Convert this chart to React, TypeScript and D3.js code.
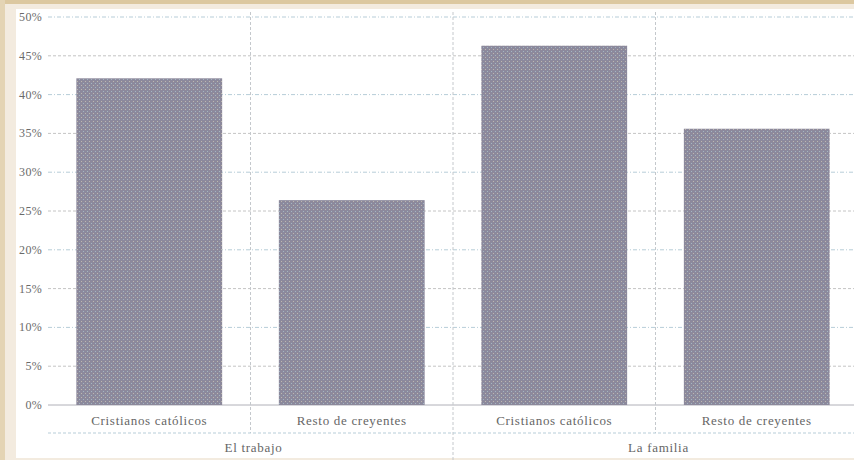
import React, { useEffect, useRef } from 'react'
import * as d3 from 'd3'

// data
const groups = ['El trabajo', 'La familia']
const categories = ['Cristianos católicos', 'Resto de creyentes']
const trabajo = [42.1, 26.4]
const familia = [46.3, 35.6]
const yTicks = [0, 5, 10, 15, 20, 25, 30, 35, 40, 45, 50]

const W = 854
const H = 460

const App: React.FC = () => {
  const svgRef = useRef(null)

  useEffect(() => {
    const svg = d3.select(svgRef.current)
    svg.selectAll('*').remove()

    const left = 48
    const right = 858
    const top = 17
    const bottom = 405

    const rows = [
      ...categories.map((c, i) => ({ group: groups[0], cat: c, key: groups[0] + i, v: trabajo[i] })),
      ...categories.map((c, i) => ({ group: groups[1], cat: c, key: groups[1] + i, v: familia[i] })),
    ]

    const x = d3.scaleBand<string>().domain(rows.map((d) => d.key)).range([left, right]).paddingInner(0.28).paddingOuter(0.14)
    const y = d3.scaleLinear().domain([0, 50]).range([bottom, top])

    // frame
    svg.append('rect').attr('width', W).attr('height', H).attr('fill', '#f3ebdf')
    svg.append('rect').attr('width', W).attr('height', 4).attr('fill', '#dcc8a0')
    svg.append('rect').attr('width', 5).attr('height', H).attr('fill', '#e4d4b4')
    svg.append('rect').attr('x', 16).attr('y', 9).attr('width', W - 16).attr('height', H - 11).attr('fill', '#ffffff')

    const defs = svg.append('defs')
    const pat = defs.append('pattern').attr('id', 'dots').attr('width', 4).attr('height', 4).attr('patternUnits', 'userSpaceOnUse')
    pat.append('rect').attr('width', 4).attr('height', 4).attr('fill', '#8c899c')
    pat.append('rect').attr('x', 1).attr('y', 1).attr('width', 1).attr('height', 1).attr('fill', '#bdb8ae')
    pat.append('rect').attr('x', 3).attr('y', 3).attr('width', 1).attr('height', 1).attr('fill', '#a2b6c3')

    // horizontal grid
    svg.append('g')
      .selectAll('line')
      .data(yTicks)
      .enter()
      .append('line')
      .attr('x1', left)
      .attr('x2', W)
      .attr('y1', (d) => y(d))
      .attr('y2', (d) => y(d))
      .attr('stroke', (d) => (d === 0 ? '#b0b0b8' : d % 10 === 0 ? '#b7cdd8' : '#c4c4c4'))
      .attr('stroke-dasharray', (d) => (d === 0 ? null : d % 10 === 0 ? '4,2,1,2' : '3,2'))

    // vertical separators
    const bw = x.step()
    const seps = rows.slice(1).map((d) => ({ pos: (x(d.key) as number) - (bw - x.bandwidth()) / 2, major: d.key === groups[1] + 0 }))
    svg.append('g')
      .selectAll('line')
      .data(seps)
      .enter()
      .append('line')
      .attr('x1', (d) => d.pos)
      .attr('x2', (d) => d.pos)
      .attr('y1', 12)
      .attr('y2', (d) => (d.major ? H : 433))
      .attr('stroke', '#c4c8cc')
      .attr('stroke-dasharray', '3,2')

    // line under category labels
    svg.append('line')
      .attr('x1', left)
      .attr('x2', W)
      .attr('y1', 433)
      .attr('y2', 433)
      .attr('stroke', '#b7cdd8')
      .attr('stroke-dasharray', '3,2')

    // bars
    svg.append('g')
      .selectAll('rect')
      .data(rows)
      .enter()
      .append('rect')
      .attr('x', (d) => x(d.key) as number)
      .attr('width', x.bandwidth())
      .attr('y', (d) => y(d.v))
      .attr('height', (d) => y(0) - y(d.v))
      .attr('fill', 'url(#dots)')

    const font = '"Liberation Serif", "DejaVu Serif", serif'

    // y labels
    svg.append('g')
      .selectAll('text')
      .data(yTicks)
      .enter()
      .append('text')
      .attr('x', 42)
      .attr('y', (d) => y(d) + 4)
      .attr('text-anchor', 'end')
      .attr('font-family', font)
      .attr('font-size', 12)
      .attr('letter-spacing', 0.3)
      .attr('fill', '#6a6a6a')
      .text((d) => d + '%')

    // category labels
    svg.append('g')
      .selectAll('text')
      .data(rows)
      .enter()
      .append('text')
      .attr('x', (d) => (x(d.key) as number) + x.bandwidth() / 2)
      .attr('y', 425)
      .attr('text-anchor', 'middle')
      .attr('font-family', font)
      .attr('font-size', 13)
      .attr('letter-spacing', 0.7)
      .attr('fill', '#666')
      .text((d) => d.cat)

    // group labels
    svg.append('g')
      .selectAll('text')
      .data(groups)
      .enter()
      .append('text')
      .attr('x', (g) => {
        const keys = rows.filter((r) => r.group === g).map((r) => r.key)
        const a = (x(keys[0]) as number) - (bw - x.bandwidth()) / 2
        const b = (x(keys[keys.length - 1]) as number) + x.bandwidth() + (bw - x.bandwidth()) / 2
        return (a + b) / 2 + 3
      })
      .attr('y', 452)
      .attr('text-anchor', 'middle')
      .attr('font-family', font)
      .attr('font-size', 13)
      .attr('letter-spacing', 0.7)
      .attr('fill', '#666')
      .text((g) => g)
  }, [])

  return <svg ref={svgRef} width={W} height={H} style={{ position: 'absolute', left: 0, top: 0 }} />
}

export default App
